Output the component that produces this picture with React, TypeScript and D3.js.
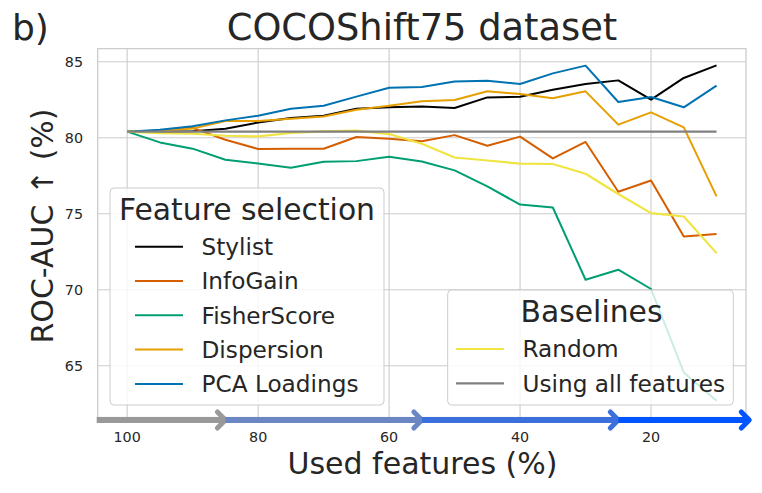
import React from "react";
import * as d3 from "d3";

const xVals = [100, 95, 90, 85, 80, 75, 70, 65, 60, 55, 50, 45, 40, 35, 30, 25, 20, 15, 10];
const stylist = [80.4, 80.4, 80.42, 80.59, 81.0, 81.3, 81.45, 81.9, 82.0, 82.05, 81.95, 82.65, 82.7, 83.16, 83.53, 83.77, 82.5, 83.93, 84.76];
const infoGain = [80.4, 80.45, 80.65, 79.87, 79.26, 79.28, 79.27, 80.05, 79.93, 79.76, 80.17, 79.47, 80.07, 78.64, 79.72, 76.45, 77.19, 73.5, 73.66];
const fisherScore = [80.4, 79.69, 79.28, 78.55, 78.31, 78.03, 78.42, 78.46, 78.75, 78.44, 77.85, 76.8, 75.6, 75.41, 70.66, 71.32, 70.05, 64.56, 62.7];
const dispersion = [80.4, 80.46, 80.6, 81.1, 81.1, 81.25, 81.4, 81.84, 82.1, 82.4, 82.48, 83.05, 82.87, 82.59, 83.05, 80.86, 81.67, 80.68, 76.14];
const pcaLoadings = [80.4, 80.53, 80.75, 81.14, 81.45, 81.9, 82.1, 82.7, 83.29, 83.33, 83.7, 83.75, 83.53, 84.23, 84.74, 82.35, 82.68, 82.0, 83.42];
const randomSel = [80.4, 80.3, 80.26, 80.13, 80.09, 80.31, 80.41, 80.46, 80.24, 79.6, 78.7, 78.5, 78.29, 78.27, 77.63, 76.3, 75.04, 74.82, 72.41];
const allFeatures = [80.4, 80.4, 80.4, 80.4, 80.4, 80.4, 80.4, 80.4, 80.4, 80.4, 80.4, 80.4, 80.4, 80.4, 80.4, 80.4, 80.4, 80.4, 80.4];

const featureSeries = [
  { name: "Stylist", values: stylist, color: "#000000" },
  { name: "InfoGain", values: infoGain, color: "#D55E00" },
  { name: "FisherScore", values: fisherScore, color: "#009E73" },
  { name: "Dispersion", values: dispersion, color: "#E69F00" },
  { name: "PCA Loadings", values: pcaLoadings, color: "#0072B2" },
];
const baselineSeries = [
  { name: "Random", values: randomSel, color: "#F0E442" },
  { name: "Using all features", values: allFeatures, color: "#808080" },
];

const xTicks = [100, 80, 60, 40, 20];
const yTicks = [65, 70, 75, 80, 85];
const arrowStops = [104.5, 85, 55, 25, 5];
const arrowColors = ["#999999", "#6A87C4", "#3B6FDC", "#0055FF"];

const FONT = "DejaVu Sans";
const TEXT = "#262626";

export default function App() {
  const W = 762, H = 493;
  const left = 97.7, right = 746, top = 48.6, bottom = 417.5;
  const x = d3.scaleLinear().domain([104.5, 5.5]).range([left, right]);
  const y = d3.scaleLinear().domain([61.6, 85.86]).range([bottom, top]);
  const line = d3
    .line<[number, number]>()
    .x((d) => x(d[0]))
    .y((d) => y(d[1]));
  const pathOf = (vals: number[]) => line(xVals.map((v, i) => [v, vals[i]] as [number, number])) || "";

  const arrowY = 420;

  return (
    <div style={{ position: "absolute", left: 0, top: 0 }}>
      <svg width={W} height={H} style={{ display: "block", fontFamily: FONT }}>
        <rect x={0} y={0} width={W} height={H} fill="#ffffff" />
        {/* grid */}
        {xTicks.map((t) => (
          <line key={"gx" + t} x1={x(t)} x2={x(t)} y1={top} y2={bottom} stroke="#cccccc" strokeWidth={1.1} />
        ))}
        {yTicks.map((t) => (
          <line key={"gy" + t} x1={left} x2={right} y1={y(t)} y2={y(t)} stroke="#cccccc" strokeWidth={1.1} />
        ))}
        <rect x={left} y={top} width={right - left} height={bottom - top} fill="none" stroke="#cccccc" strokeWidth={1.3} />

        {/* lines */}
        {featureSeries.map((s) => (
          <path key={s.name} d={pathOf(s.values)} fill="none" stroke={s.color} strokeWidth={2} strokeLinejoin="round" />
        ))}
        {baselineSeries.map((s) => (
          <path key={s.name} d={pathOf(s.values)} fill="none" stroke={s.color} strokeWidth={2.2} strokeLinejoin="round" />
        ))}

        {/* tick labels */}
        {yTicks.map((t) => (
          <text key={"ty" + t} x={83} y={y(t) + 5} textAnchor="end" fontSize={14.3} fill={TEXT}>
            {t}
          </text>
        ))}
        {xTicks.map((t) => (
          <text key={"tx" + t} x={x(t)} y={442} textAnchor="middle" fontSize={14.3} fill={TEXT}>
            {t}
          </text>
        ))}

        {/* axis labels & title */}
        <text x={422.5} y={474} textAnchor="middle" fontSize={30} fill={TEXT}>
          Used features (%)
        </text>
        <text transform={`translate(53,${226}) rotate(-90)`} textAnchor="middle" fontSize={30} fill={TEXT}>
          ROC-AUC ↑ (%)
        </text>
        <text x={422} y={40} textAnchor="middle" fontSize={36.8} fill={TEXT}>
          COCOShift75 dataset
        </text>
        <text x={12} y={40} fontSize={36} fill={TEXT}>
          b)
        </text>

        {/* legend: Feature selection */}
        <rect x={110} y={188} width={274} height={217} rx={4} fill="#ffffff" fillOpacity={0.8} stroke="#cccccc" strokeWidth={1} />
        <text x={247} y={220} textAnchor="middle" fontSize={29.8} fill={TEXT}>
          Feature selection
        </text>
        {featureSeries.map((s, i) => {
          const cy = 246.7 + i * 34.3;
          return (
            <g key={"lg" + s.name}>
              <line x1={135} x2={183} y1={cy} y2={cy} stroke={s.color} strokeWidth={2} />
              <text x={201.5} y={cy + 8.3} fontSize={23.2} fill={TEXT}>
                {s.name}
              </text>
            </g>
          );
        })}

        {/* legend: Baselines */}
        <rect x={447.7} y={290} width={285.6} height={115} rx={4} fill="#ffffff" fillOpacity={0.8} stroke="#cccccc" strokeWidth={1} />
        <text x={591.5} y={321.7} textAnchor="middle" fontSize={29.8} fill={TEXT}>
          Baselines
        </text>
        {baselineSeries.map((s, i) => {
          const cy = 349 + i * 34.3;
          return (
            <g key={"lb" + s.name}>
              <line x1={456} x2={504} y1={cy} y2={cy} stroke={s.color} strokeWidth={2.2} />
              <text x={522.5} y={cy + 8.3} fontSize={23.2} fill={TEXT}>
                {s.name}
              </text>
            </g>
          );
        })}

        {/* progress arrow */}
        {arrowColors.map((c, i) => {
          const x0 = i === 0 ? left - 1 : x(arrowStops[i]);
          const x1 = x(arrowStops[i + 1]);
          return (
            <g key={"ar" + i}>
              <line x1={x0} x2={x1 - 2} y1={arrowY} y2={arrowY} stroke={c} strokeWidth={6} />
              <path
                d={`M${x1 - 8},${arrowY - 8} L${x1},${arrowY} L${x1 - 8},${arrowY + 8}`}
                fill="none"
                stroke={c}
                strokeWidth={5}
                strokeLinecap="round"
                strokeLinejoin="round"
              />
            </g>
          );
        })}
      </svg>
    </div>
  );
}
